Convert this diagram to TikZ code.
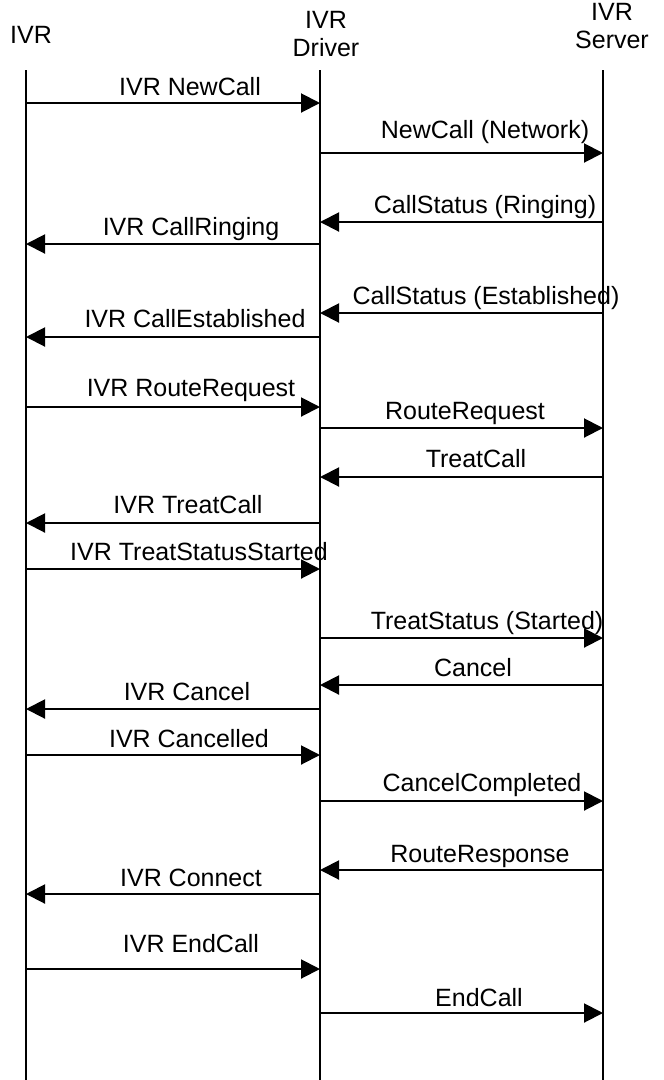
\documentclass[tikz,border=0pt]{standalone}
\usepackage{fontspec}
\setmainfont{Liberation Sans}
\usetikzlibrary{arrows.meta}
\newcommand\msg[7]{%
  \coordinate (#1s) at (#3,#2);
  \coordinate (#1e) at (#4,#2);
  \draw[msgline] (#1s) -- (#1e);
  \node[lbl,anchor=base] (#1l) at (#5,#6) {#7};}
\begin{document}
\begin{tikzpicture}[x=1pt,y=-1pt,line width=2pt,
  msgline/.style={-{Triangle[length=19pt,width=19pt]}},
  lbl/.style={font=\fontsize{25}{28}\selectfont,inner sep=0pt},
  lifeline/.style={line width=2pt}]
\useasboundingbox (0,0) rectangle (664,1080);
% headers
\node[lbl] (hA) at (31,35) {IVR};
\node[lbl,align=center] (hB) at (326,34) {IVR\\Driver};
\node[lbl,align=center] (hC) at (612,26) {IVR\\Server};
% lifelines
\coordinate (A0) at (26,70);  \coordinate (A1) at (26,1080);
\coordinate (B0) at (320,70); \coordinate (B1) at (320,1080);
\coordinate (C0) at (603,70); \coordinate (C1) at (603,1080);
\draw[lifeline] (A0) -- (A1);
\draw[lifeline] (B0) -- (B1);
\draw[lifeline] (C0) -- (C1);
% messages: name, y, from x, to x, label x, label baseline, text
\msg{m1}{103}{26}{320}{190}{95}{IVR NewCall}
\msg{m2}{153}{320}{603}{485}{138}{NewCall (Network)}
\msg{m3}{222}{603}{320}{485}{213}{CallStatus (Ringing)}
\msg{m4}{244}{320}{26}{191}{235}{IVR CallRinging}
\msg{m5}{313}{603}{320}{486}{304}{CallStatus (Established)}
\msg{m6}{337}{320}{26}{195}{327}{IVR CallEstablished}
\msg{m7}{407}{26}{320}{191}{396}{IVR RouteRequest}
\msg{m8}{428}{320}{603}{465}{419}{RouteRequest}
\msg{m9}{477}{603}{320}{476}{467}{TreatCall}
\msg{m10}{523}{320}{26}{188}{513}{IVR TreatCall}
\msg{m11}{569}{26}{320}{199}{560}{IVR TreatStatusStarted}
\msg{m12}{638}{320}{603}{487}{629}{TreatStatus (Started)}
\msg{m13}{685}{603}{320}{473}{676}{Cancel}
\msg{m14}{709}{320}{26}{187}{700}{IVR Cancel}
\msg{m15}{755}{26}{320}{189}{747}{IVR Cancelled}
\msg{m16}{801}{320}{603}{482}{791}{CancelCompleted}
\msg{m17}{870}{603}{320}{480}{862}{RouteResponse}
\msg{m18}{894}{320}{26}{191}{886}{IVR Connect}
\msg{m19}{969}{26}{320}{191}{952}{IVR EndCall}
\msg{m20}{1013}{320}{603}{479}{1006}{EndCall}
\end{tikzpicture}
\end{document}
